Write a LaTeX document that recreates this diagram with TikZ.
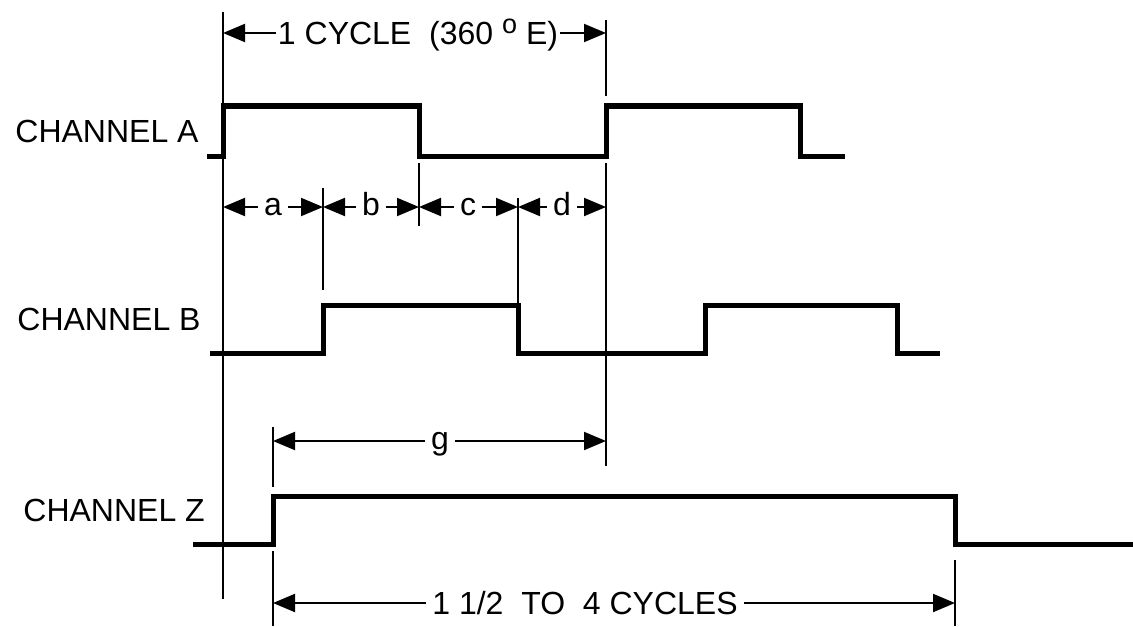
\documentclass[tikz,border=0pt]{standalone}
\usepackage{fontspec}
\setmainfont{Liberation Sans}
\usetikzlibrary{arrows.meta}
\newcommand{\lbl}{\fontsize{16}{19}\selectfont}
\newcommand{\degsign}{\raisebox{5.3pt}{\fontsize{13.5}{13.5}\selectfont o}}

\begin{document}
\begin{tikzpicture}[x=0.5pt,y=-0.5pt,
  wave/.style={line width=2.5pt},
  guide/.style={line width=1pt},
  dimline/.style={line width=1pt,-{Triangle[length=11pt,width=9pt]}},
  tag/.style={font=\lbl,inner sep=0pt,anchor=west,text height=11.5pt,text depth=0pt},
  captxt/.style={font=\lbl,inner xsep=2pt,inner ysep=0pt,text height=11.5pt,text depth=0pt},
  lowtxt/.style={font=\lbl,inner xsep=3pt,inner ysep=0pt,text height=8.3pt,text depth=0pt}]
\useasboundingbox (0,0) rectangle (1133,626);
\node[tag] (chA) at (15,131) {CHANNEL A};
\node[tag] (chB) at (17,319) {CHANNEL B};
\node[tag] (chZ) at (23,510) {CHANNEL Z};
\draw[guide] (223,12) -- (223,599);
\draw[guide] (606,20) -- (606,96);
\draw[guide] (606,163) -- (606,466);
\draw[guide] (419,163) -- (419,226);
\draw[guide] (323,188) -- (323,290);
\draw[guide] (518,198) -- (518,305);
\draw[guide] (273,427) -- (273,487);
\draw[guide] (273,551) -- (273,626);
\draw[guide] (955,560) -- (955,626);
\draw[wave] (207,156) -- (223,156) -- (223,106) -- (419,106) -- (419,156) -- (606,156) -- (606,106) -- (800,106) -- (800,156) -- (845,156);
\draw[wave] (210,353) -- (323,353) -- (323,305) -- (518,305) -- (518,353) -- (705,353) -- (705,305) -- (897,305) -- (897,353) -- (940,353);
\draw[wave] (193,544) -- (273,544) -- (273,496) -- (955,496) -- (955,544) -- (1133,544);
\coordinate (cyc0) at (223,33);
\coordinate (cyc1) at (606,33);
\node[captxt,inner xsep=1pt] (cyc) at (418,33) {1 CYCLE\ \ (360 \degsign\ E)};
\draw[dimline] (cyc) -- (cyc0);
\draw[dimline] (cyc) -- (cyc1);
\coordinate (q0) at (223,207);
\coordinate (q1) at (323,207);
\coordinate (q2) at (419,207);
\coordinate (q3) at (518,207);
\coordinate (q4) at (606,207);
\node[lowtxt] (pa) at (273,207) {a};
\node[lowtxt] (pb) at (371,207) {b};
\node[lowtxt] (pc) at (468,207) {c};
\node[lowtxt] (pd) at (562,207) {d};
\draw[dimline] (pa) -- (q0);
\draw[dimline] (pa) -- (q1);
\draw[dimline] (pb) -- (q1);
\draw[dimline] (pb) -- (q2);
\draw[dimline] (pc) -- (q2);
\draw[dimline] (pc) -- (q3);
\draw[dimline] (pd) -- (q3);
\draw[dimline] (pd) -- (q4);
\coordinate (g0) at (273,441);
\coordinate (g1) at (606,441);
\node[lowtxt] (pg) at (440,441) {g};
\draw[dimline] (pg) -- (g0);
\draw[dimline] (pg) -- (g1);
\coordinate (z0) at (273,603);
\coordinate (z1) at (955,603);
\node[captxt,inner xsep=3pt] (span) at (585,603) {1 1/2\ \ TO\ \ 4 CYCLES};
\draw[dimline] (span) -- (z0);
\draw[dimline] (span) -- (z1);
\end{tikzpicture}
\end{document}
